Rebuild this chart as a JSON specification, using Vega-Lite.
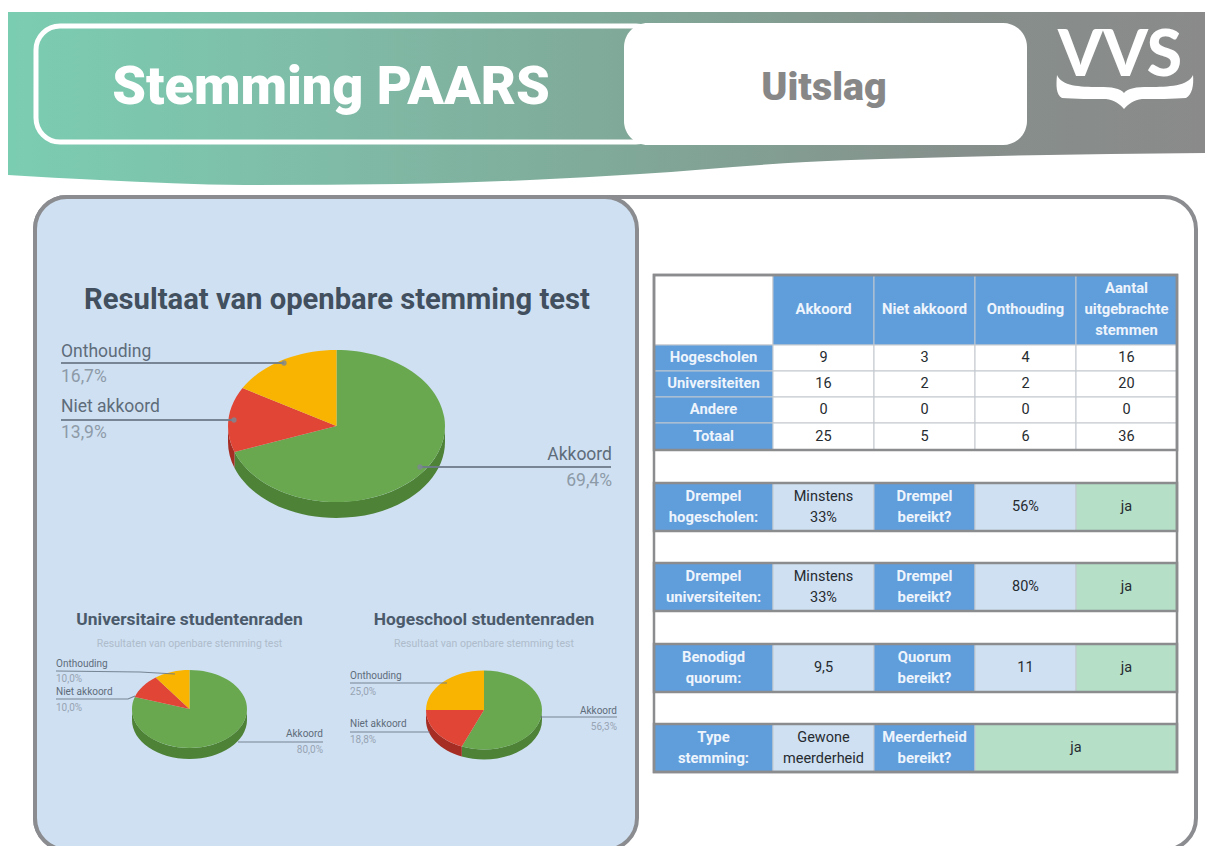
{
"$schema":"https://vega.github.io/schema/vega-lite/v6.json",
"autosize":{"type":"fit","contains":"padding"},
"padding":0,"width":1205,"height":846,"background":"#ffffff",
"config":{"view":{"stroke":null},"text":{"font":"Roboto"},"font":"Roboto"},
"resolve":{"scale":{"color":"independent","fill":"independent"}},
"datasets":{
"band":[{"x":8,"y":12,"y2":175},{"x":100,"y":12,"y2":180},{"x":245,"y":12,"y2":185},{"x":400,"y":12,"y2":184},{"x":530,"y":12,"y2":180},{"x":640,"y":12,"y2":174},{"x":806,"y":12,"y2":162},{"x":956,"y":12,"y2":157},{"x":1205,"y":12,"y2":153}],
"pieGeom":[{"pie":"main","x":336.5,"y":426,"rx":108.5,"ry":76,"depth":16},{"pie":"uni","x":189.5,"y":709,"rx":57.5,"ry":39,"depth":11},{"pie":"hoge","x":484,"y":710,"rx":58,"ry":39.5,"depth":10}],
"votes":[
{"pie":"main","cat":"Akkoord","order":1,"votes":25},{"pie":"main","cat":"Niet akkoord","order":2,"votes":5},{"pie":"main","cat":"Onthouding","order":3,"votes":6},
{"pie":"uni","cat":"Akkoord","order":1,"votes":16},{"pie":"uni","cat":"Niet akkoord","order":2,"votes":2},{"pie":"uni","cat":"Onthouding","order":3,"votes":2},
{"pie":"hoge","cat":"Akkoord","order":1,"votes":9},{"pie":"hoge","cat":"Niet akkoord","order":2,"votes":3},{"pie":"hoge","cat":"Onthouding","order":3,"votes":4}],
"leaders":[
{"id":"m1","size":"main","x":61,"y":363},{"id":"m1","size":"main","x":284,"y":363,"dot":true},
{"id":"m2","size":"main","x":61,"y":420},{"id":"m2","size":"main","x":234,"y":420,"dot":true},
{"id":"m3","size":"main","x":420,"y":467,"dot":true},{"id":"m3","size":"main","x":611,"y":467},
{"id":"u1","size":"small","x":56,"y":671},{"id":"u1","size":"small","x":140,"y":672},{"id":"u1","size":"small","x":175,"y":674},
{"id":"u2","size":"small","x":56,"y":699},{"id":"u2","size":"small","x":128,"y":699},{"id":"u2","size":"small","x":135,"y":696},
{"id":"u3","size":"small","x":238,"y":742},{"id":"u3","size":"small","x":323,"y":742},
{"id":"h1","size":"small","x":350,"y":683},{"id":"h1","size":"small","x":447,"y":683},
{"id":"h2","size":"small","x":350,"y":732},{"id":"h2","size":"small","x":430,"y":732},
{"id":"h3","size":"small","x":540,"y":717},{"id":"h3","size":"small","x":617,"y":717}],
"labels":[
{"text":"Onthouding","role":"mainName","anchor":"left","x":61,"y":352},{"text":"16,7%","role":"mainPct","anchor":"left","x":61,"y":377},
{"text":"Niet akkoord","role":"mainName","anchor":"left","x":61,"y":407},{"text":"13,9%","role":"mainPct","anchor":"left","x":61,"y":433},
{"text":"Akkoord","role":"mainName","anchor":"right","x":612,"y":455},{"text":"69,4%","role":"mainPct","anchor":"right","x":612,"y":481},
{"text":"Onthouding","role":"smallName","anchor":"left","x":56,"y":664},{"text":"10,0%","role":"smallPct","anchor":"left","x":56,"y":679},
{"text":"Niet akkoord","role":"smallName","anchor":"left","x":56,"y":692},{"text":"10,0%","role":"smallPct","anchor":"left","x":56,"y":708},
{"text":"Akkoord","role":"smallName","anchor":"right","x":323,"y":734},{"text":"80,0%","role":"smallPct","anchor":"right","x":323,"y":750},
{"text":"Onthouding","role":"smallName","anchor":"left","x":350,"y":676},{"text":"25,0%","role":"smallPct","anchor":"left","x":350,"y":692},
{"text":"Niet akkoord","role":"smallName","anchor":"left","x":350,"y":724},{"text":"18,8%","role":"smallPct","anchor":"left","x":350,"y":740},
{"text":"Akkoord","role":"smallName","anchor":"right","x":617,"y":711},{"text":"56,3%","role":"smallPct","anchor":"right","x":617,"y":727},
{"text":"Resultaten van openbare stemming test","role":"sub","anchor":"middle","x":189.5,"y":644},
{"text":"Resultaat van openbare stemming test","role":"sub","anchor":"middle","x":484,"y":644}],
"tableCols":[{"col":"A","x":654,"x2":773},{"col":"B","x":773,"x2":874},{"col":"C","x":874,"x2":975},{"col":"D","x":975,"x2":1076},{"col":"E","x":1076,"x2":1177},{"col":"DE","x":975,"x2":1177},{"col":"ALL","x":654,"x2":1177}],
"tableRows":[{"row":"kop","y":275,"y2":345},{"row":"hs","y":345,"y2":371},{"row":"uni","y":371,"y2":397},{"row":"and","y":397,"y2":423},{"row":"tot","y":423,"y2":450},{"row":"s1","y":450,"y2":483},{"row":"dh","y":483,"y2":531},{"row":"s2","y":531,"y2":563},{"row":"du","y":563,"y2":611},{"row":"s3","y":611,"y2":644},{"row":"q","y":644,"y2":692},{"row":"s4","y":692,"y2":724},{"row":"t","y":724,"y2":772}],
"cells":[
{"row":"kop","col":"A","kind":"plain","text":""},{"row":"kop","col":"B","kind":"head","text":"Akkoord"},{"row":"kop","col":"C","kind":"head","text":"Niet akkoord"},{"row":"kop","col":"D","kind":"head","text":"Onthouding"},{"row":"kop","col":"E","kind":"head","text":"Aantal\nuitgebrachte\nstemmen"},
{"row":"hs","col":"A","kind":"head","text":"Hogescholen"},{"row":"hs","col":"B","kind":"plain","text":"9"},{"row":"hs","col":"C","kind":"plain","text":"3"},{"row":"hs","col":"D","kind":"plain","text":"4"},{"row":"hs","col":"E","kind":"plain","text":"16"},
{"row":"uni","col":"A","kind":"head","text":"Universiteiten"},{"row":"uni","col":"B","kind":"plain","text":"16"},{"row":"uni","col":"C","kind":"plain","text":"2"},{"row":"uni","col":"D","kind":"plain","text":"2"},{"row":"uni","col":"E","kind":"plain","text":"20"},
{"row":"and","col":"A","kind":"head","text":"Andere"},{"row":"and","col":"B","kind":"plain","text":"0"},{"row":"and","col":"C","kind":"plain","text":"0"},{"row":"and","col":"D","kind":"plain","text":"0"},{"row":"and","col":"E","kind":"plain","text":"0"},
{"row":"tot","col":"A","kind":"head","text":"Totaal"},{"row":"tot","col":"B","kind":"plain","text":"25"},{"row":"tot","col":"C","kind":"plain","text":"5"},{"row":"tot","col":"D","kind":"plain","text":"6"},{"row":"tot","col":"E","kind":"plain","text":"36"},
{"row":"s1","col":"ALL","kind":"plain","text":""},
{"row":"dh","col":"A","kind":"head","text":"Drempel\nhogescholen:"},{"row":"dh","col":"B","kind":"light","text":"Minstens\n33%"},{"row":"dh","col":"C","kind":"head","text":"Drempel\nbereikt?"},{"row":"dh","col":"D","kind":"light","text":"56%"},{"row":"dh","col":"E","kind":"ok","text":"ja"},
{"row":"s2","col":"ALL","kind":"plain","text":""},
{"row":"du","col":"A","kind":"head","text":"Drempel\nuniversiteiten:"},{"row":"du","col":"B","kind":"light","text":"Minstens\n33%"},{"row":"du","col":"C","kind":"head","text":"Drempel\nbereikt?"},{"row":"du","col":"D","kind":"light","text":"80%"},{"row":"du","col":"E","kind":"ok","text":"ja"},
{"row":"s3","col":"ALL","kind":"plain","text":""},
{"row":"q","col":"A","kind":"head","text":"Benodigd\nquorum:"},{"row":"q","col":"B","kind":"light","text":"9,5"},{"row":"q","col":"C","kind":"head","text":"Quorum\nbereikt?"},{"row":"q","col":"D","kind":"light","text":"11"},{"row":"q","col":"E","kind":"ok","text":"ja"},
{"row":"s4","col":"ALL","kind":"plain","text":""},
{"row":"t","col":"A","kind":"head","text":"Type\nstemming:"},{"row":"t","col":"B","kind":"light","text":"Gewone\nmeerderheid"},{"row":"t","col":"C","kind":"head","text":"Meerderheid\nbereikt?"},{"row":"t","col":"DE","kind":"ok","text":"ja"}],
"sections":[{"x":654,"x2":1177,"y":275,"y2":450},{"x":654,"x2":1177,"y":483,"y2":531},{"x":654,"x2":1177,"y":563,"y2":611},{"x":654,"x2":1177,"y":644,"y2":692},{"x":654,"x2":1177,"y":724,"y2":772},{"x":654,"x2":1177,"y":275,"y2":772}]
},
"encoding":{
"x":{"field":"x","type":"quantitative","scale":{"domain":[0,1205],"nice":false,"zero":false},"axis":null},
"y":{"field":"y","type":"quantitative","scale":{"domain":[846,0],"nice":false,"zero":false},"axis":null}
},
"layer":[
{"data":{"name":"band"},"mark":{"type":"area","interpolate":"monotone","color":{"gradient":"linear","x1":0,"y1":0,"x2":1,"y2":0,"stops":[{"offset":0,"color":"#7bcdb2"},{"offset":0.25,"color":"#7fbda8"},{"offset":0.52,"color":"#80a898"},{"offset":0.8,"color":"#868f8b"},{"offset":1,"color":"#8a8a8a"}]}},"encoding":{"y2":{"field":"y2"}}},
{"data":{"values":[{"x":36,"x2":660,"y":26,"y2":142}]},"mark":{"type":"rect","fillOpacity":0,"stroke":"#ffffff","strokeWidth":5,"cornerRadius":24},"encoding":{"x2":{"field":"x2"},"y2":{"field":"y2"}}},
{"data":{"values":[{"x":624,"x2":1027,"y":23,"y2":145}]},"mark":{"type":"rect","fill":"#ffffff","cornerRadius":24},"encoding":{"x2":{"field":"x2"},"y2":{"field":"y2"}}},
{"data":{"values":[{"text":"Stemming PAARS","x":331,"y":88}]},"mark":{"type":"text","font":"Roboto","fontWeight":900,"fontSize":54,"fill":"#ffffff","align":"center","baseline":"middle"},"encoding":{"text":{"field":"text"}}},
{"data":{"values":[{"text":"Uitslag","x":824,"y":88}]},"mark":{"type":"text","font":"Roboto","fontWeight":900,"fontSize":39.5,"fill":"#878787","align":"center","baseline":"middle"},"encoding":{"text":{"field":"text"}}},
{"data":{"values":[{"text":"VVS","x":1120,"y":57}]},"mark":{"type":"text","font":"Lato","fontWeight":900,"fontSize":64,"fill":"#ffffff","align":"center","baseline":"middle"},"encoding":{"text":{"field":"text"}}},
{"data":{"values":[{"x":1124,"y":90}]},"mark":{"type":"point","filled":true,"opacity":1,"size":4,"fill":"#ffffff","shape":"M-67,-15 C-62,-4 -45,-3 -25,-3 C-12,-3 -4,-2 0,3 C4,-2 12,-3 25,-3 C45,-3 64,-4 69,-15 C70,-5 68,5 62,8 C50,9 30,9 18,9 C10,10 4,14 0,19 C-4,14 -10,10 -18,9 C-30,9 -50,9 -62,8 C-68,5 -68,-5 -67,-15 Z"}},
{"data":{"values":[{"x":35,"x2":1196,"y":197,"y2":850}]},"mark":{"type":"rect","fill":"#ffffff","stroke":"#8a8c90","strokeWidth":4,"cornerRadius":32,"clip":true},"encoding":{"x2":{"field":"x2"},"y2":{"field":"y2"}}},
{"data":{"values":[{"x":35,"x2":637,"y":197,"y2":850}]},"mark":{"type":"rect","fill":"#cfe0f2","stroke":"#8a8c90","strokeWidth":4,"cornerRadius":32,"clip":true},"encoding":{"x2":{"field":"x2"},"y2":{"field":"y2"}}},
{"data":{"name":"votes"},
 "transform":[
  {"joinaggregate":[{"op":"sum","field":"votes","as":"total"}],"groupby":["pie"]},
  {"window":[{"op":"sum","field":"votes","as":"cum"}],"sort":[{"field":"order"}],"groupby":["pie"]},
  {"lookup":"pie","from":{"data":{"name":"pieGeom"},"key":"pie","fields":["x","y","rx","ry","depth"]}},
  {"calculate":"max(2*PI*(datum.cum-datum.votes)/datum.total,PI/2)","as":"a0"},
  {"calculate":"min(2*PI*datum.cum/datum.total,3*PI/2)","as":"a1"},
  {"filter":"datum.a1>datum.a0"},
  {"calculate":"'M'+datum.rx*sin(datum.a0)+','+(-datum.ry*cos(datum.a0))+'A'+datum.rx+','+datum.ry+' 0 0 1 '+datum.rx*sin(datum.a1)+','+(-datum.ry*cos(datum.a1))+'L'+datum.rx*sin(datum.a1)+','+(datum.depth-datum.ry*cos(datum.a1))+'A'+datum.rx+','+datum.ry+' 0 0 0 '+datum.rx*sin(datum.a0)+','+(datum.depth-datum.ry*cos(datum.a0))+'Z'","as":"path"}
 ],
 "mark":{"type":"point","filled":true,"opacity":1,"size":4},
 "encoding":{
  "shape":{"field":"path","type":"nominal","scale":null,"legend":null},
  "color":{"field":"cat","type":"nominal","legend":null,"scale":{"domain":["Akkoord","Niet akkoord","Onthouding"],"range":["#4e8237","#a52d23","#c08a00"]}}}},
{"data":{"name":"votes"},
 "transform":[
  {"joinaggregate":[{"op":"sum","field":"votes","as":"total"}],"groupby":["pie"]},
  {"window":[{"op":"sum","field":"votes","as":"cum"}],"sort":[{"field":"order"}],"groupby":["pie"]},
  {"lookup":"pie","from":{"data":{"name":"pieGeom"},"key":"pie","fields":["x","y","rx","ry"]}},
  {"calculate":"2*PI*(datum.cum-datum.votes)/datum.total","as":"a0"},
  {"calculate":"2*PI*datum.cum/datum.total","as":"a1"},
  {"calculate":"'M0,0L'+datum.rx*sin(datum.a0)+','+(-datum.ry*cos(datum.a0))+'A'+datum.rx+','+datum.ry+' 0 '+(datum.a1-datum.a0>PI?1:0)+' 1 '+datum.rx*sin(datum.a1)+','+(-datum.ry*cos(datum.a1))+'Z'","as":"path"}
 ],
 "mark":{"type":"point","filled":true,"opacity":1,"size":4},
 "encoding":{
  "shape":{"field":"path","type":"nominal","scale":null,"legend":null},
  "fill":{"field":"cat","type":"nominal","legend":null,"scale":{"domain":["Akkoord","Niet akkoord","Onthouding"],"range":["#6aa84f","#e04535","#f8b400"]}}}},
{"data":{"name":"leaders"},"transform":[{"filter":"datum.size==='main'"}],"mark":{"type":"line","stroke":"#6d7b8a","strokeWidth":2,"opacity":0.9},"encoding":{"detail":{"field":"id"}}},
{"data":{"name":"leaders"},"transform":[{"filter":"datum.size==='small'"}],"mark":{"type":"line","stroke":"#6d7b8a","strokeWidth":1.2,"opacity":0.9},"encoding":{"detail":{"field":"id"}}},
{"data":{"name":"leaders"},"transform":[{"filter":"datum.dot===true"}],"mark":{"type":"point","shape":"circle","filled":true,"fill":"#7d8794","opacity":0.8,"size":28}},
{"data":{"values":[{"text":"Resultaat van openbare stemming test","x":337,"y":300}]},"mark":{"type":"text","font":"Roboto","fontWeight":700,"fontSize":29.2,"fill":"#414f5e","align":"center","baseline":"middle"},"encoding":{"text":{"field":"text"}}},
{"data":{"values":[{"text":"Universitaire studentenraden","x":189.5,"y":620},{"text":"Hogeschool studentenraden","x":484,"y":620}]},"mark":{"type":"text","font":"Roboto","fontWeight":700,"fontSize":17.4,"fill":"#4b5a6b","align":"center","baseline":"middle"},"encoding":{"text":{"field":"text"}}},
{"data":{"name":"labels"},"transform":[{"filter":"datum.anchor==='left' && indexof(datum.role,'main')===0"}],"mark":{"type":"text","font":"Roboto","fontSize":17.5,"align":"left","baseline":"middle"},
 "encoding":{"text":{"field":"text"},
  "color":{"field":"role","type":"nominal","legend":null,"scale":{"domain":["mainName","mainPct"],"range":["#5e6c7a","#8d9aa7"]}}}},
{"data":{"name":"labels"},"transform":[{"filter":"datum.anchor==='right' && indexof(datum.role,'main')===0"}],"mark":{"type":"text","font":"Roboto","fontSize":17.5,"align":"right","baseline":"middle"},
 "encoding":{"text":{"field":"text"},
  "color":{"field":"role","type":"nominal","legend":null,"scale":{"domain":["mainName","mainPct"],"range":["#5e6c7a","#8d9aa7"]}}}},
{"data":{"name":"labels"},"transform":[{"filter":"datum.anchor==='left' && indexof(datum.role,'small')===0"}],"mark":{"type":"text","font":"Roboto","fontSize":10,"align":"left","baseline":"middle"},
 "encoding":{"text":{"field":"text"},
  "color":{"field":"role","type":"nominal","legend":null,"scale":{"domain":["smallName","smallPct"],"range":["#5e6c7a","#97a4b2"]}}}},
{"data":{"name":"labels"},"transform":[{"filter":"datum.anchor==='right' && indexof(datum.role,'small')===0"}],"mark":{"type":"text","font":"Roboto","fontSize":10,"align":"right","baseline":"middle"},
 "encoding":{"text":{"field":"text"},
  "color":{"field":"role","type":"nominal","legend":null,"scale":{"domain":["smallName","smallPct"],"range":["#5e6c7a","#97a4b2"]}}}},
{"data":{"name":"labels"},"transform":[{"filter":"datum.anchor==='middle'"}],"mark":{"type":"text","font":"Roboto","align":"center","baseline":"middle","fontSize":10.5,"fill":"#aebccb"},
 "encoding":{"text":{"field":"text"}}},
{"data":{"name":"cells"},
 "transform":[
  {"lookup":"col","from":{"data":{"name":"tableCols"},"key":"col","fields":["x","x2"]}},
  {"lookup":"row","from":{"data":{"name":"tableRows"},"key":"row","fields":["y","y2"]}}],
 "mark":{"type":"rect","stroke":"#c2c8ce","strokeWidth":1},
 "encoding":{"x2":{"field":"x2"},"y2":{"field":"y2"},
  "fill":{"field":"kind","type":"nominal","legend":null,"scale":{"domain":["head","plain","light","ok"],"range":["#5f9ddb","#ffffff","#cfe0f2","#b5dfc7"]}}}},
{"data":{"name":"sections"},"mark":{"type":"rect","fillOpacity":0,"stroke":"#8b8c8e","strokeWidth":2.5},"encoding":{"x2":{"field":"x2"},"y2":{"field":"y2"}}},
{"data":{"name":"cells"},
 "transform":[
  {"filter":"datum.kind==='head'"},
  {"lookup":"col","from":{"data":{"name":"tableCols"},"key":"col","fields":["x","x2"]},"as":["l","r"]},
  {"lookup":"row","from":{"data":{"name":"tableRows"},"key":"row","fields":["y","y2"]},"as":["t","b"]},
  {"calculate":"(datum.l+datum.r)/2","as":"x"},
  {"calculate":"(datum.t+datum.b)/2-(split(datum.text,'\\n').length-1)*10.5","as":"y"}],
 "mark":{"type":"text","font":"Roboto","fontWeight":700,"fontSize":14.8,"fill":"#eef4fb","align":"center","baseline":"middle","lineBreak":"\n","lineHeight":21},
 "encoding":{"text":{"field":"text"}}},
{"data":{"name":"cells"},
 "transform":[
  {"filter":"datum.kind!=='head' && datum.text!==''"},
  {"lookup":"col","from":{"data":{"name":"tableCols"},"key":"col","fields":["x","x2"]},"as":["l","r"]},
  {"lookup":"row","from":{"data":{"name":"tableRows"},"key":"row","fields":["y","y2"]},"as":["t","b"]},
  {"calculate":"(datum.l+datum.r)/2","as":"x"},
  {"calculate":"(datum.t+datum.b)/2-(split(datum.text,'\\n').length-1)*10.5","as":"y"}],
 "mark":{"type":"text","font":"Roboto","fontSize":14.5,"fill":"#262b30","align":"center","baseline":"middle","lineBreak":"\n","lineHeight":21},
 "encoding":{"text":{"field":"text"}}}
]
}
